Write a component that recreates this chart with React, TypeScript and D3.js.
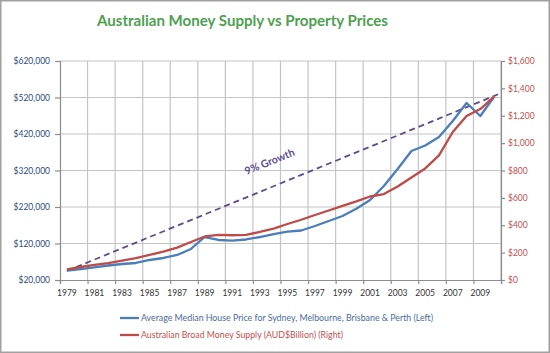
import React, { useEffect, useRef } from "react";
import * as d3 from "d3";

const W = 550;
const H = 353;
const plot = { left: 60, right: 501, top: 61, bottom: 280 };

const years = [
  1979, 1980, 1981, 1982, 1983, 1984, 1985, 1986, 1987, 1988, 1989, 1990, 1991, 1992, 1993, 1994,
  1995, 1996, 1997, 1998, 1999, 2000, 2001, 2002, 2003, 2004, 2005, 2006, 2007, 2008, 2009, 2010
];

// Average median house price (left axis, $)
const housePrice = [
  45500, 50000, 54800, 59700, 63800, 66600, 74800, 80300, 88500, 105000, 137800, 129600, 127700,
  131000, 137800, 146000, 152300, 155600, 168000, 181600, 195300, 215300, 239000, 277500, 324000,
  373400, 388500, 411800, 455600, 505000, 469300, 522000
];

// Broad money supply (right axis, AUD$ billion)
const moneySupply = [
  78, 95, 110, 124, 142, 159, 183, 208, 237, 278, 318, 329, 327, 329, 351, 376, 409, 440, 475, 508,
  541, 574, 610, 628, 683, 749, 815, 910, 1081, 1198, 1249, 1339
];

// "9% Growth" reference line (left axis)
const growthYears = [1979, 2010.5];
const growthValues = [45000, 532000];

const leftTicks = [20000, 120000, 220000, 320000, 420000, 520000, 620000];
const rightTicks = [0, 200, 400, 600, 800, 1000, 1200, 1400, 1600];
const yearLabels = [1979, 1981, 1983, 1985, 1987, 1989, 1991, 1993, 1995, 1997, 1999, 2001, 2003, 2005, 2007, 2009];

const legendItems = [
  { label: "Average Median House Price for Sydney, Melbourne, Brisbane & Perth (Left)", color: "#4A7EBB", text: "#4A6A9C", len: 292 },
  { label: "Australian Broad Money Supply (AUD$Billion) (Right)", color: "#BE4B48", text: "#C0504D", len: 202 }
];

const FONT = "Lato, 'Open Sans', sans-serif";

export default function App() {
  const ref = useRef<SVGSVGElement>(null);

  useEffect(() => {
    const svg = d3.select(ref.current);
    svg.selectAll("*").remove();

    const x = d3.scaleLinear().domain([1978.5, 2010.5]).range([plot.left, plot.right]);
    const yL = d3.scaleLinear().domain([20000, 620000]).range([plot.bottom, plot.top]);
    const yR = d3.scaleLinear().domain([0, 1600]).range([plot.bottom, plot.top]);

    svg.append("rect").attr("width", W).attr("height", H).attr("fill", "#fff");
    svg
      .append("rect")
      .attr("x", 0.75)
      .attr("y", 0.75)
      .attr("width", W - 1.5)
      .attr("height", H - 1.5)
      .attr("fill", "none")
      .attr("stroke", "#a0a0a0")
      .attr("stroke-width", 1.5);

    // title
    svg
      .append("text")
      .attr("x", 242.5)
      .attr("y", 26)
      .attr("text-anchor", "middle")
      .attr("font-family", FONT)
      .attr("font-weight", "bold")
      .attr("font-size", 16)
      .attr("fill", "#4E9F50")
      .attr("textLength", 291)
      .attr("lengthAdjust", "spacingAndGlyphs")
      .text("Australian Money Supply vs Property Prices");

    // gridlines
    const grid = svg.append("g").attr("stroke", "#c4c4c4").attr("stroke-width", 1.2);
    leftTicks.slice(1).forEach(t => {
      grid.append("line").attr("x1", plot.left).attr("x2", plot.right).attr("y1", yL(t)).attr("y2", yL(t));
    });
    const gridYears = yearLabels.map(y => y - 0.5).concat([2010.5]);
    gridYears.slice(1).forEach(g => {
      grid.append("line").attr("x1", x(g)).attr("x2", x(g)).attr("y1", plot.top).attr("y2", plot.bottom);
    });

    const styleAxis = (g: any, color: string) => {
      g.select(".domain").attr("stroke", "#8c8c8c").attr("stroke-width", 1.2);
      g.selectAll(".tick line").attr("stroke", "#8c8c8c").attr("stroke-width", 1.2);
      g.selectAll("text").attr("fill", color).attr("font-family", FONT).attr("font-size", 8.5);
    };

    const fmt = (d: any) => "$" + d3.format(",")(d);

    const left = svg
      .append("g")
      .attr("transform", `translate(${plot.left},0)`)
      .call(d3.axisLeft(yL).tickValues(leftTicks).tickSize(5).tickPadding(5).tickFormat(fmt));
    styleAxis(left, "#2B4C7E");

    const right = svg
      .append("g")
      .attr("transform", `translate(${plot.right},0)`)
      .call(d3.axisRight(yR).tickValues(rightTicks).tickSize(4).tickPadding(3).tickFormat(fmt));
    styleAxis(right, "#C0504D");

    const bottom = svg
      .append("g")
      .attr("transform", `translate(0,${plot.bottom})`)
      .call(d3.axisBottom(x).tickValues(gridYears).tickSize(4).tickFormat(() => ""));
    styleAxis(bottom, "#333");

    svg
      .append("g")
      .selectAll("text")
      .data(yearLabels)
      .join("text")
      .attr("x", d => x(d))
      .attr("y", 296)
      .attr("text-anchor", "middle")
      .attr("font-family", FONT)
      .attr("font-size", 8.5)
      .attr("fill", "#333")
      .text(d => d);

    // growth line
    const growthLine = d3
      .line<number>()
      .x(d => x(growthYears[d]))
      .y(d => yL(growthValues[d]));
    svg
      .append("path")
      .attr("d", growthLine([0, 1]))
      .attr("fill", "none")
      .attr("stroke", "#5E4B8F")
      .attr("stroke-width", 1.8)
      .attr("stroke-dasharray", "6,4");

    svg
      .append("text")
      .attr("transform", "translate(271,165) rotate(-22)")
      .attr("text-anchor", "middle")
      .attr("font-family", FONT)
      .attr("font-weight", "bold")
      .attr("font-size", 10.5)
      .attr("fill", "#5E4B8F")
      .text("9% Growth");

    const lineL = d3
      .line<number>()
      .x((d, i) => x(years[i]))
      .y(d => yL(d));
    const lineR = d3
      .line<number>()
      .x((d, i) => x(years[i]))
      .y(d => yR(d));

    svg
      .append("path")
      .attr("d", lineL(housePrice))
      .attr("fill", "none")
      .attr("stroke", "#4A7EBB")
      .attr("stroke-width", 2.3)
      .attr("stroke-linejoin", "round");
    svg
      .append("path")
      .attr("d", lineR(moneySupply))
      .attr("fill", "none")
      .attr("stroke", "#BE4B48")
      .attr("stroke-width", 2.3)
      .attr("stroke-linejoin", "round");

    // legend
    const legendY = [318, 335];
    legendItems.forEach((it, i) => {
      svg
        .append("line")
        .attr("x1", 120)
        .attr("x2", 139)
        .attr("y1", legendY[i])
        .attr("y2", legendY[i])
        .attr("stroke", it.color)
        .attr("stroke-width", 2.3);
      svg
        .append("text")
        .attr("x", 141)
        .attr("y", legendY[i])
        .attr("dy", "0.35em")
        .attr("font-family", FONT)
        .attr("font-size", 8.5)
        .attr("fill", it.text)
        .attr("textLength", it.len)
        .attr("lengthAdjust", "spacingAndGlyphs")
        .text(it.label);
    });
  }, []);

  return (
    <svg
      ref={ref}
      width={W}
      height={H}
      style={{ position: "absolute", left: 0, top: 0, display: "block" }}
    />
  );
}
